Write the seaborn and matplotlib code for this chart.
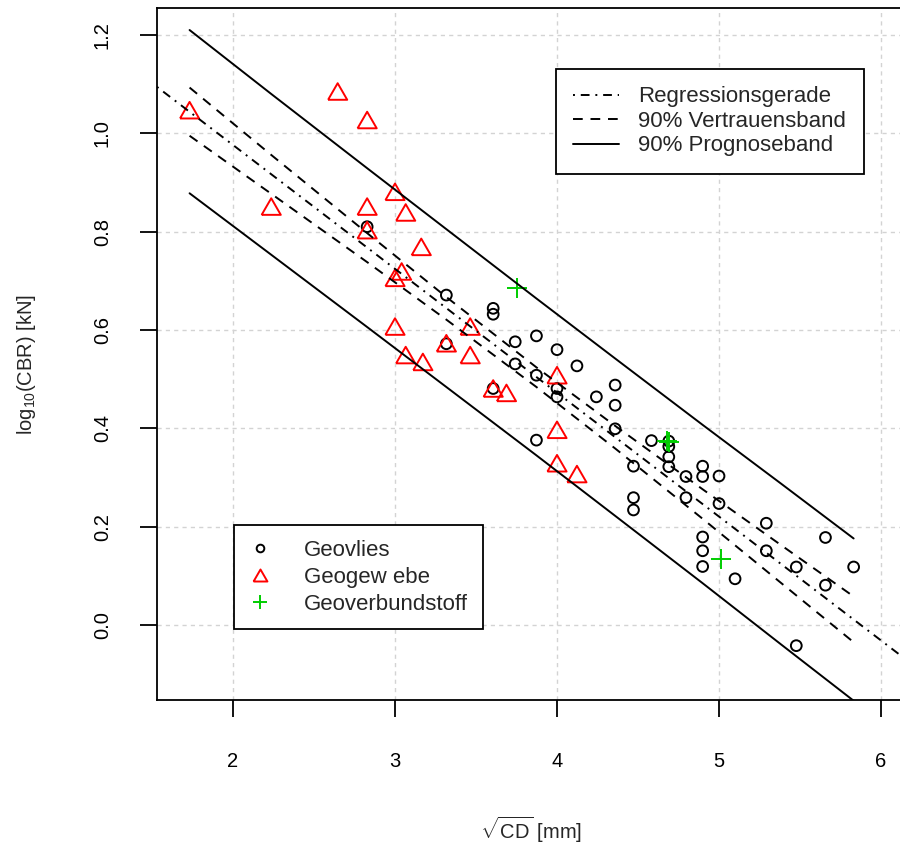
import matplotlib
matplotlib.use("Agg")
import matplotlib.pyplot as plt
from matplotlib.lines import Line2D
import pandas as pd
import seaborn as sns

# --- measurements: sqrt(CD) [mm] vs log10(CBR) [kN] -------------------------
vlies_x = [2.828, 3.317, 3.317, 3.606, 3.606, 3.606, 3.742, 3.742, 3.873, 3.873,
           3.873, 4.000, 4.000, 4.000, 4.123, 4.243, 4.359, 4.359, 4.359, 4.472,
           4.472, 4.472, 4.583, 4.690, 4.690, 4.690, 4.690, 4.796, 4.796, 4.899,
           4.899, 4.899, 4.899, 4.899, 5.000, 5.000, 5.099, 5.292, 5.292, 5.477,
           5.477, 5.657, 5.657, 5.831]
vlies_y = [0.810, 0.671, 0.572, 0.644, 0.632, 0.481, 0.576, 0.531, 0.588, 0.508,
           0.376, 0.560, 0.481, 0.464, 0.527, 0.464, 0.488, 0.447, 0.399, 0.323,
           0.259, 0.234, 0.375, 0.374, 0.363, 0.342, 0.322, 0.302, 0.259, 0.323,
           0.302, 0.179, 0.151, 0.119, 0.303, 0.247, 0.094, 0.207, 0.151, 0.118,
           -0.042, 0.178, 0.081, 0.118]

gewebe_x = [1.732, 2.236, 2.646, 2.828, 2.828, 2.828, 3.000, 3.066, 3.162, 3.041,
            3.000, 3.000, 3.066, 3.172, 3.317, 3.464, 3.464, 3.606, 3.688, 4.000,
            4.000, 4.000, 4.123]
gewebe_y = [1.047, 0.851, 1.085, 1.027, 0.851, 0.803, 0.881, 0.839, 0.769, 0.719,
            0.706, 0.607, 0.549, 0.535, 0.573, 0.607, 0.549, 0.481, 0.472, 0.508,
            0.397, 0.329, 0.307]

verbund_x = [3.751, 4.677, 4.692, 5.012]
verbund_y = [0.685, 0.374, 0.373, 0.134]

# --- fitted regression and 90% bands -----------------------------------------
reg_intercept = 1.480
reg_slope = -0.2519

band_x = [1.732, 2.236, 2.828, 3.317, 3.873, 4.359, 4.899, 5.385, 5.831]
conf_upper = [1.093, 0.956, 0.797, 0.667, 0.524, 0.405, 0.276, 0.162, 0.058]
conf_lower = [0.995, 0.877, 0.738, 0.621, 0.484, 0.359, 0.216, 0.085, -0.035]
pred_upper = [1.210, 1.080, 0.929, 0.805, 0.664, 0.542, 0.407, 0.287, 0.176]
pred_lower = [0.878, 0.753, 0.606, 0.484, 0.345, 0.222, 0.085, -0.040, -0.154]

x_ticks = [2, 3, 4, 5, 6]
x_ticklabels = ["2", "3", "4", "5", "6"]
y_ticks = [0.0, 0.2, 0.4, 0.6, 0.8, 1.0, 1.2]
y_ticklabels = ["0.0", "0.2", "0.4", "0.6", "0.8", "1.0", "1.2"]

group_labels = ["Geovlies", "Geogew ebe", "Geoverbundstoff"]
line_labels = ["Regressionsgerade", "90% Vertrauensband", "90% Prognoseband"]

# --- styling ----------------------------------------------------------------
sns.set_style("white")
plt.rcParams["font.family"] = ["Liberation Sans", "DejaVu Sans"]
plt.rcParams["mathtext.fontset"] = "custom"
plt.rcParams["mathtext.rm"] = "Liberation Sans"
plt.rcParams["mathtext.it"] = "Liberation Sans:italic"
plt.rcParams["mathtext.bf"] = "Liberation Sans:bold"

RED = "#FF0000"
GREEN = "#00CD00"
LW = 1.4
DASHDOT = (0, (1, 3, 4.5, 3))
DASHED = (0, (5, 4))
# equilateral triangle, bounding box centred on the data point
TRIANGLE = [(-1.0, -0.866), (1.0, -0.866), (0.0, 0.866), (-1.0, -0.866)]

W, H = 900, 846
fig = plt.figure(figsize=(W / 100, H / 100), dpi=100)
ax = fig.add_axes([157 / W, (H - 700) / H, 748 / W, 692 / H])

ax.set_xlim(1.5309, 6.148)
ax.set_ylim(-0.1525, 1.2548)

ax.grid(True, color="#D3D3D3", linestyle=(0, (3, 3)), linewidth=1.0)
ax.set_axisbelow(True)

# --- points -------------------------------------------------------------------
df_vlies = pd.DataFrame({"x": vlies_x, "y": vlies_y})
df_gewebe = pd.DataFrame({"x": gewebe_x, "y": gewebe_y})
df_verbund = pd.DataFrame({"x": verbund_x, "y": verbund_y})

sns.scatterplot(data=df_vlies, x="x", y="y", ax=ax, marker="o", s=60,
                facecolors="none", edgecolor="black", linewidth=LW, legend=False, zorder=3)
sns.scatterplot(data=df_gewebe, x="x", y="y", ax=ax, marker=TRIANGLE, s=190,
                facecolors="none", edgecolor=RED, linewidth=LW, legend=False, zorder=3)
sns.scatterplot(data=df_verbund, x="x", y="y", ax=ax, marker="+", s=210,
                color=GREEN, linewidth=LW, legend=False, zorder=3)

# --- regression line and bands -------------------------------------------------
ax.axline((0, reg_intercept), slope=reg_slope, color="black", lw=LW,
          linestyle=DASHDOT, zorder=4)
for yy in (conf_upper, conf_lower):
    sns.lineplot(x=band_x, y=yy, ax=ax, color="black", lw=LW, linestyle=DASHED, zorder=4)
for yy in (pred_upper, pred_lower):
    sns.lineplot(x=band_x, y=yy, ax=ax, color="black", lw=LW, linestyle="-", zorder=4)

# --- axes -------------------------------------------------------------------------
ax.set_xticks(x_ticks)
ax.set_xticklabels(x_ticklabels)
ax.set_yticks(y_ticks)
ax.set_yticklabels(y_ticklabels, rotation=90, va="center")
ax.tick_params(axis="both", direction="out", length=12.5, width=1.3,
               labelsize=14.5, colors="black", bottom=True, left=True,
               top=False, right=False)
ax.tick_params(axis="x", pad=25)
ax.tick_params(axis="y", pad=20)
for sp in ax.spines.values():
    sp.set_linewidth(1.3)
    sp.set_color("black")

ax.set_xlabel(r"$\sqrt{\mathrm{CD}}$ [mm]", fontsize=14.5, va="center")
ax.xaxis.set_label_coords(0.5, (700 - 830) / 692)
ax.set_ylabel(r"log$_{10}$(CBR) [kN]", fontsize=14.5, va="center")
ax.yaxis.set_label_coords((27 - 157) / 748, (700 - 364) / 692)

# --- legends ------------------------------------------------------------------------
LEG_FS = 16
line_handles = [
    Line2D([], [], color="black", lw=LW, linestyle=DASHDOT),
    Line2D([], [], color="black", lw=LW, linestyle=DASHED),
    Line2D([], [], color="black", lw=LW, linestyle="-"),
]
leg1 = ax.legend(line_handles, line_labels, loc="upper left",
                 bbox_to_anchor=(556 / W, 1 - 69 / H), bbox_transform=fig.transFigure,
                 fontsize=LEG_FS, frameon=True, fancybox=False, framealpha=1,
                 borderpad=0.78, borderaxespad=0, handlelength=2.05,
                 handletextpad=0.88, labelspacing=0.16)
leg1.get_frame().set_edgecolor("black")
leg1.get_frame().set_linewidth(1.3)
ax.add_artist(leg1)

point_handles = [
    Line2D([], [], ls="none", marker="o", ms=5.5, mfc="none", mec="black", mew=LW),
    Line2D([], [], ls="none", marker=TRIANGLE, ms=10, mfc="none", mec=RED, mew=LW),
    Line2D([], [], ls="none", marker="+", ms=10, color=GREEN, mew=LW),
]
leg2 = ax.legend(point_handles, group_labels, loc="upper left",
                 bbox_to_anchor=(234 / W, 1 - 525 / H), bbox_transform=fig.transFigure,
                 fontsize=LEG_FS, frameon=True, fancybox=False, framealpha=1,
                 borderpad=0.66, borderaxespad=0, handlelength=1.05,
                 handletextpad=1.45, labelspacing=0.27)
leg2.get_frame().set_edgecolor("black")
leg2.get_frame().set_linewidth(1.3)

fig.savefig("out.png", dpi=100)
